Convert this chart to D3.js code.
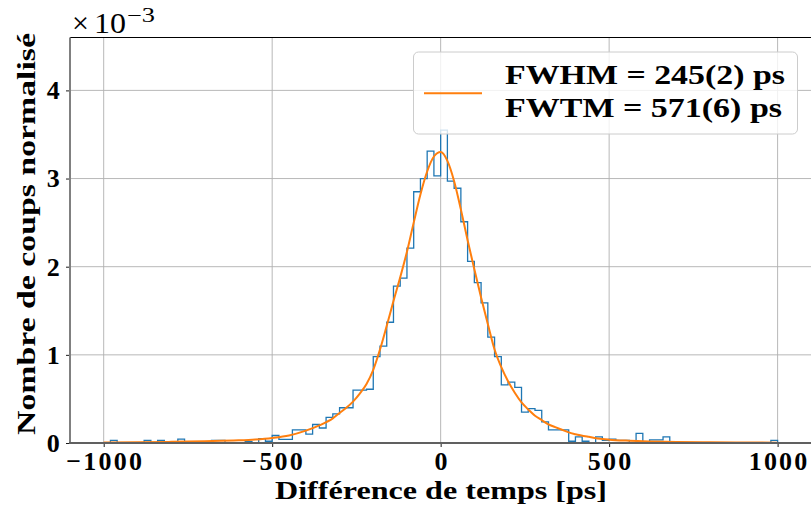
<!DOCTYPE html>
<html>
<head>
<meta charset="utf-8">
<script src="https://cdn.jsdelivr.net/npm/d3@7"></script>
<style>
body { margin: 0; background: #fff; }
text { font-family: 'Liberation Serif', 'Times New Roman', serif; font-weight: bold; fill: #000; }
</style>
</head>
<body>
<svg id="chart"></svg>
<script>
// histogram: 100 bins of 20 ps from -1000 to 1000, values in units of 1e-3
let binStart = -1000
let binWidth = 20
let histValues = [
  0, 0.03, 0, 0, 0, 0, 0.03, 0, 0.03, 0,
  0, 0.045, 0, 0, 0, 0, 0.03, 0.03, 0, 0,
  0, 0.015, 0, 0.05, 0.02, 0.085, 0.04, 0.04, 0.15, 0.15,
  0.10, 0.21, 0.17, 0.29, 0.33, 0.40, 0.40, 0.60, 0.60, 0.61,
  0.98, 1.10, 1.37, 1.78, 1.87, 2.21, 2.85, 3.00, 3.31, 3.03,
  3.55, 2.97, 2.89, 2.51, 2.06, 1.82, 1.59, 1.20, 0.98, 0.66,
  0.69, 0.63, 0.35, 0.39, 0.37, 0.24, 0.15, 0.15, 0.15, 0.02,
  0.07, 0.02, 0, 0.07, 0.03, 0.045, 0.03, 0.03, 0, 0.11,
  0, 0.035, 0.035, 0.07, 0, 0, 0, 0, 0, 0,
  0, 0, 0, 0, 0, 0, 0, 0, 0, 0.03
]

// fitted curve
let fitX = [-1000, -900, -800, -700, -600, -550, -500, -450, -400, -360, -320, -300, -280, -260, -240, -220,
  -200, -180, -160, -140, -120, -100, -80, -60, -40, -20, 0, 20, 40, 60, 80, 100, 120, 140, 160, 180,
  200, 220, 240, 260, 280, 300, 320, 340, 360, 380, 400, 440, 480, 500, 550, 600, 700, 800, 900, 1000]
let fitY = [0.006, 0.009, 0.013, 0.02, 0.03, 0.04, 0.057, 0.085, 0.14, 0.2, 0.28, 0.34, 0.40, 0.47, 0.56, 0.67,
  0.83, 1.06, 1.33, 1.61, 1.88, 2.17, 2.50, 2.82, 3.08, 3.25, 3.30, 3.20, 2.97, 2.65, 2.30, 1.97, 1.65, 1.35, 1.06, 0.86,
  0.70, 0.57, 0.46, 0.38, 0.31, 0.26, 0.21, 0.18, 0.15, 0.12, 0.10, 0.07, 0.045, 0.038, 0.027, 0.02, 0.012, 0.008, 0.005, 0.004]

let xTicks = [-1000, -500, 0, 500, 1000]
let yTicks = [0, 1, 2, 3, 4]
let legendLabels = ['FWHM = 245(2) ps', 'FWTM = 571(6) ps']

let width = 811
let height = 508
let plotLeft = 70, plotRight = 811.3, plotTop = 37.5, plotBottom = 443

let svg = d3.select('#chart').attr('width', width).attr('height', height)

let xScale = d3.scaleLinear().domain([-1100, 1100]).range([plotLeft, plotRight])
let yScale = d3.scaleLinear().domain([0, 4.6]).range([plotBottom, plotTop])

svg.append('defs').append('clipPath').attr('id', 'clip')
  .append('rect').attr('x', plotLeft).attr('y', plotTop)
  .attr('width', plotRight - plotLeft).attr('height', plotBottom - plotTop)

// grid
let grid = svg.append('g')
grid.selectAll('.gx').data(xTicks).enter().append('line')
  .attr('x1', d => xScale(d)).attr('x2', d => xScale(d))
  .attr('y1', plotTop).attr('y2', plotBottom)
  .attr('stroke', '#b0b0b0').attr('stroke-width', 0.9)
grid.selectAll('.gy').data(yTicks).enter().append('line')
  .attr('x1', plotLeft).attr('x2', plotRight)
  .attr('y1', d => yScale(d)).attr('y2', d => yScale(d))
  .attr('stroke', '#b0b0b0').attr('stroke-width', 0.9)

// histogram as a step outline
let pts = [[xScale(binStart), yScale(0)]]
histValues.forEach(function(v, i) {
  let x0 = binStart + i * binWidth
  pts.push([xScale(x0), yScale(v)])
  pts.push([xScale(x0 + binWidth), yScale(v)])
})
pts.push([xScale(binStart + histValues.length * binWidth), yScale(0)])

let plot = svg.append('g').attr('clip-path', 'url(#clip)')
plot.append('path')
  .attr('d', d3.line()(pts))
  .attr('fill', 'none')
  .attr('stroke', '#1f77b4')
  .attr('stroke-width', 1.3)

// fit curve
let fitLine = d3.line()
  .x(d => xScale(d[0]))
  .y(d => yScale(d[1]))
  .curve(d3.curveMonotoneX)
plot.append('path')
  .attr('d', fitLine(fitX.map((x, i) => [x, fitY[i]])))
  .attr('fill', 'none')
  .attr('stroke', '#ff7f0e')
  .attr('stroke-width', 2)

// axes
let fmt = d => d < 0 ? '\u2212' + Math.abs(d) : String(d)
let xAxis = svg.append('g').attr('transform', 'translate(0,' + plotBottom + ')')
  .call(d3.axisBottom(xScale).tickValues(xTicks).tickSize(4).tickPadding(5).tickFormat(fmt))
let yAxis = svg.append('g').attr('transform', 'translate(' + plotLeft + ',0)')
  .call(d3.axisLeft(yScale).tickValues(yTicks).tickSize(4).tickPadding(4).tickFormat(d => d))
xAxis.select('.domain').remove()
yAxis.select('.domain').remove()
svg.selectAll('.tick line').attr('stroke', '#000').attr('stroke-width', 0.9)
svg.selectAll('.tick text')
  .style('font-family', "'Liberation Serif', serif")
  .style('font-weight', 'bold')
  .style('font-size', '26px')
  .attr('letter-spacing', 2.2)
xAxis.selectAll('.tick text').attr('dx', 1)

// spines
svg.append('line').attr('x1', plotLeft).attr('x2', plotRight).attr('y1', plotTop).attr('y2', plotTop)
  .attr('stroke', '#000').attr('stroke-width', 1)
svg.append('line').attr('x1', plotLeft).attr('x2', plotLeft).attr('y1', plotTop).attr('y2', plotBottom + 1)
  .attr('stroke', '#808080').attr('stroke-width', 2)
svg.append('line').attr('x1', plotLeft - 1).attr('x2', plotRight).attr('y1', plotBottom).attr('y2', plotBottom)
  .attr('stroke', '#606060').attr('stroke-width', 2)

// axis labels
svg.append('text')
  .attr('x', 441).attr('y', 499)
  .attr('text-anchor', 'middle')
  .attr('textLength', 332).attr('lengthAdjust', 'spacingAndGlyphs')
  .style('font-size', '26px')
  .text('Différence de temps [ps]')
svg.append('text')
  .attr('transform', 'translate(35,234) rotate(-90)')
  .attr('text-anchor', 'middle')
  .attr('textLength', 402).attr('lengthAdjust', 'spacingAndGlyphs')
  .style('font-size', '26px')
  .text('Nombre de coups normalisé')

// offset text x10^-3
svg.append('text').attr('x', 72).attr('y', 33)
  .attr('font-size', 30).style('font-size', '30px').style('font-weight', 'normal')
  .text('\u00d7')
svg.append('text').attr('x', 94).attr('y', 33)
  .attr('font-size', 29).style('font-size', '29px').style('font-weight', 'normal')
  .attr('textLength', 32).attr('lengthAdjust', 'spacingAndGlyphs')
  .text('10')
svg.append('text').attr('x', 127).attr('y', 22)
  .attr('font-size', 20).style('font-size', '20px').style('font-weight', 'normal')
  .attr('textLength', 28).attr('lengthAdjust', 'spacingAndGlyphs')
  .text('\u22123')

// legend
let lg = svg.append('g')
lg.append('rect')
  .attr('x', 413.5).attr('y', 52).attr('width', 384).attr('height', 82).attr('rx', 5)
  .attr('fill', '#fff').attr('fill-opacity', 0.8)
  .attr('stroke', '#cccccc').attr('stroke-width', 1)
lg.append('line').attr('x1', 424).attr('x2', 482).attr('y1', 93.3).attr('y2', 93.3)
  .attr('stroke', '#ff7f0e').attr('stroke-width', 2)
lg.selectAll('.lt').data(legendLabels).enter().append('text')
  .attr('x', 505)
  .attr('y', (d, i) => 84 + i * 32.5)
  .attr('textLength', (d, i) => i === 0 ? 280 : 277)
  .attr('lengthAdjust', 'spacingAndGlyphs')
  .style('font-size', '28px')
  .text(d => d)
</script>
</body>
</html>
